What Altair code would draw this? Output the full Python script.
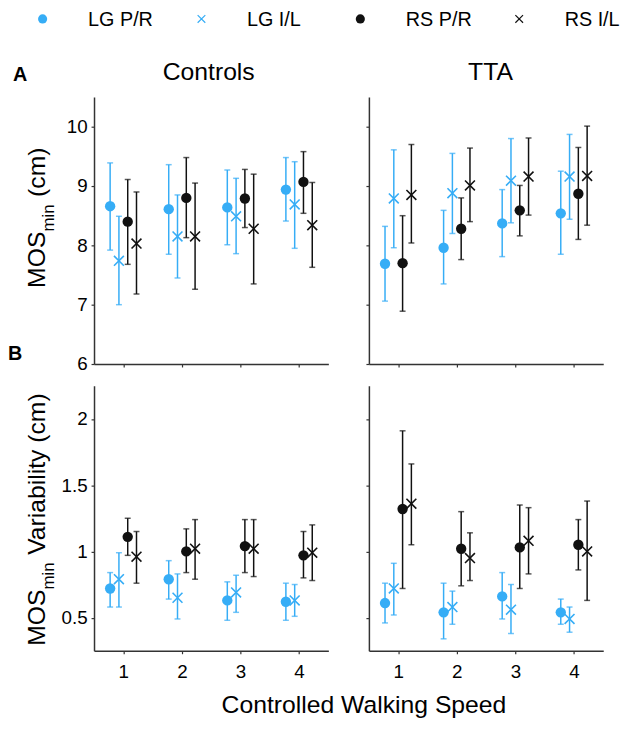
import altair as alt
import pandas as pd

speeds = [1, 2, 3, 4]
series = ["LG P/R", "LG I/L", "RS P/R", "RS I/L"]
markers = ["circle", "x", "circle", "x"]

# values per series for speeds 1..4
ctrl_mos_mean = {"LG P/R": [8.66, 8.61, 8.64, 8.94], "LG I/L": [7.74, 8.15, 8.49, 8.69],
                 "RS P/R": [8.40, 8.80, 8.79, 9.07], "RS I/L": [8.03, 8.15, 8.28, 8.34]}
ctrl_mos_lo = {"LG P/R": [7.92, 7.85, 8.01, 8.41], "LG I/L": [7.00, 7.45, 7.86, 7.95],
               "RS P/R": [7.68, 8.13, 8.30, 8.54], "RS I/L": [7.18, 7.26, 7.35, 7.63]}
ctrl_mos_hi = {"LG P/R": [9.39, 9.36, 9.27, 9.48], "LG I/L": [8.49, 8.85, 9.13, 9.41],
               "RS P/R": [9.11, 9.48, 9.28, 9.58], "RS I/L": [8.90, 9.05, 9.20, 9.06]}

tta_mos_mean = {"LG P/R": [7.69, 7.96, 8.37, 8.54], "LG I/L": [8.79, 8.88, 9.09, 9.16],
                "RS P/R": [7.70, 8.28, 8.59, 8.87], "RS I/L": [8.85, 9.01, 9.16, 9.17]}
tta_mos_lo = {"LG P/R": [7.06, 7.35, 7.81, 7.85], "LG I/L": [7.96, 8.20, 8.38, 8.44],
              "RS P/R": [6.89, 7.76, 8.16, 8.10], "RS I/L": [8.04, 8.40, 8.51, 8.34]}
tta_mos_hi = {"LG P/R": [8.32, 8.59, 8.94, 9.25], "LG I/L": [9.61, 9.55, 9.80, 9.87],
              "RS P/R": [8.50, 8.80, 9.01, 9.65], "RS I/L": [9.70, 9.64, 9.81, 10.01]}

ctrl_var_mean = {"LG P/R": [0.72, 0.79, 0.63, 0.62], "LG I/L": [0.79, 0.65, 0.69, 0.63],
                 "RS P/R": [1.11, 1.00, 1.04, 0.97], "RS I/L": [0.96, 1.02, 1.02, 0.99]}
ctrl_var_lo = {"LG P/R": [0.58, 0.64, 0.48, 0.48], "LG I/L": [0.58, 0.49, 0.54, 0.51],
               "RS P/R": [0.97, 0.84, 0.84, 0.80], "RS I/L": [0.76, 0.79, 0.81, 0.78]}
ctrl_var_hi = {"LG P/R": [0.84, 0.93, 0.77, 0.76], "LG I/L": [0.99, 0.83, 0.82, 0.75],
               "RS P/R": [1.25, 1.17, 1.24, 1.15], "RS I/L": [1.15, 1.24, 1.24, 1.20]}

tta_var_mean = {"LG P/R": [0.61, 0.54, 0.66, 0.54], "LG I/L": [0.72, 0.58, 0.56, 0.49],
                "RS P/R": [1.32, 1.02, 1.03, 1.05], "RS I/L": [1.36, 0.95, 1.08, 1.00]}
tta_var_lo = {"LG P/R": [0.46, 0.34, 0.49, 0.45], "LG I/L": [0.52, 0.45, 0.38, 0.39],
              "RS P/R": [0.72, 0.74, 0.72, 0.86], "RS I/L": [1.05, 0.78, 0.83, 0.63]}
tta_var_hi = {"LG P/R": [0.76, 0.76, 0.84, 0.64], "LG I/L": [0.91, 0.70, 0.75, 0.58],
              "RS P/R": [1.91, 1.30, 1.35, 1.24], "RS I/L": [1.66, 1.14, 1.33, 1.38]}

mos_ticks = [6, 7, 8, 9, 10]
var_ticks = [0.5, 1, 1.5, 2]

# ---- styling ----
BLUE = "#36ADF6"
BLACK = "#111111"
colors = [BLUE, BLUE, BLACK, BLACK]
dodge = {"LG P/R": -0.225, "LG I/L": -0.075, "RS P/R": 0.075, "RS I/L": 0.225}
XPATH = "M-1,-1L1,1M-1,1L1,-1"
FONT = "Liberation Sans"
W = 237
LEG_H = 69

color_enc = alt.Color("series:N", scale=alt.Scale(domain=series, range=colors), legend=None)


def frame(mean, lo, hi):
    rows = []
    for s, m in zip(series, markers):
        for i, sp in enumerate(speeds):
            rows.append({"series": s, "marker": m, "speed": sp, "xpos": sp + dodge[s],
                         "mean": mean[s][i], "lo": lo[s][i], "hi": hi[s][i]})
    return pd.DataFrame(rows)


def label(text, x, y, size, angle=0, bold=False, align="left"):
    return alt.Chart(pd.DataFrame({"t": [text]})).mark_text(
        font=FONT, fontSize=size, angle=angle, fontWeight="bold" if bold else "normal",
        align=align, baseline="alphabetic", color="black"
    ).encode(text="t:N", x=alt.value(x), y=alt.value(y))


def panel(mean, lo, hi, ydomain, yvalues, yfmt, height, ylabels, xlabels, extras):
    df = frame(mean, lo, hi)
    xs = alt.Scale(domain=[0.5, 4.5], nice=False, zero=False)
    ys = alt.Scale(domain=ydomain, nice=False, zero=False)
    xax = alt.Axis(values=speeds, format="d", labels=xlabels, title=None, grid=False,
                   labelPadding=9, labelFlush=False)
    yax = alt.Axis(values=yvalues, format=yfmt, labels=ylabels, title=None, grid=False,
                   labelPadding=4, labelFlush=False)
    X = alt.X("xpos:Q", scale=xs, axis=xax)

    def Y(f):
        return alt.Y(f, scale=ys, axis=yax)

    base = alt.Chart(df)
    layers = [
        base.mark_rule(strokeWidth=1.5).encode(x=X, y=Y("lo:Q"), y2="hi:Q", color=color_enc),
        base.mark_tick(orient="horizontal", size=6, thickness=1.5).encode(x=X, y=Y("lo:Q"), color=color_enc),
        base.mark_tick(orient="horizontal", size=6, thickness=1.5).encode(x=X, y=Y("hi:Q"), color=color_enc),
        base.transform_filter(alt.datum.marker == "circle").mark_point(
            shape="circle", filled=True, size=110, opacity=1).encode(x=X, y=Y("mean:Q"), color=color_enc),
        base.transform_filter(alt.datum.marker == "x").mark_point(
            shape=XPATH, filled=False, size=100, strokeWidth=1.6, opacity=1).encode(x=X, y=Y("mean:Q"), color=color_enc),
    ] + extras
    return alt.layer(*layers).properties(width=W, height=height)


# ---- legend row ----
leg_df = pd.DataFrame({"series": series, "marker": markers})
leg_x = alt.X("series:N", scale=alt.Scale(type="point", domain=series, range=[-52, 430], padding=0), axis=None)
leg_base = alt.Chart(leg_df)
legend = alt.layer(
    leg_base.transform_filter(alt.datum.marker == "circle").mark_point(
        shape="circle", filled=True, size=85, opacity=1).encode(x=leg_x, y=alt.value(12), color=color_enc),
    leg_base.transform_filter(alt.datum.marker == "x").mark_point(
        shape=XPATH, filled=False, size=60, strokeWidth=1.2, opacity=1).encode(x=leg_x, y=alt.value(12), color=color_enc),
    leg_base.mark_text(font=FONT, fontSize=20, align="left", baseline="alphabetic", dx=46, color="black").encode(
        x=leg_x, y=alt.value(19.5), text="series:N"),
).properties(width=W, height=LEG_H)

blank = alt.Chart(pd.DataFrame({"t": [""]})).mark_text().encode(text="t:N").properties(width=W, height=LEG_H)

# ---- panels ----
a_ctrl = panel(ctrl_mos_mean, ctrl_mos_lo, ctrl_mos_hi, [6, 10.5], mos_ticks, "d", 270, True, False, [
    label("Controls", 116, -17, 25, align="center"),
    label("A", -82, -16, 20, bold=True),
    label("MOS", -50, 193, 25, angle=270),
    label("min", -40, 136, 17, angle=270),
    label("(cm)", -50, 101, 25, angle=270),
])
a_tta = panel(tta_mos_mean, tta_mos_lo, tta_mos_hi, [6, 10.5], mos_ticks, "d", 270, False, False, [
    label("TTA", 123, -17, 25, align="center"),
])
b_ctrl = panel(ctrl_var_mean, ctrl_var_lo, ctrl_var_hi, [0.25, 2.25], var_ticks, "~g", 268, True, True, [
    label("B", -87, -26, 20, bold=True),
    label("MOS", -50, 263, 25, angle=270),
    label("min", -40, 206, 17, angle=270),
    label("Variability (cm)", -50, 171, 25, angle=270),
    label("Controlled Walking Speed", 273, 331, 25, align="center"),
])
b_tta = panel(tta_var_mean, tta_var_lo, tta_var_hi, [0.25, 2.25], var_ticks, "~g", 268, False, True, [])

chart = alt.concat(
    legend, blank, a_ctrl, a_tta, b_ctrl, b_tta,
    columns=2, spacing={"row": 22, "column": 41}, bounds="flush"
).properties(
    padding={"left": 0, "top": -5, "right": 5, "bottom": 0}
).configure_view(stroke=None).configure_axis(
    domainColor="#333333", domainWidth=1.5, tickColor="#333333", tickWidth=1.2, tickSize=3,
    labelFont=FONT, labelFontSize=19, labelColor="black", grid=False
)

chart.save("out.html", embed_options={"renderer": "svg", "actions": False})
